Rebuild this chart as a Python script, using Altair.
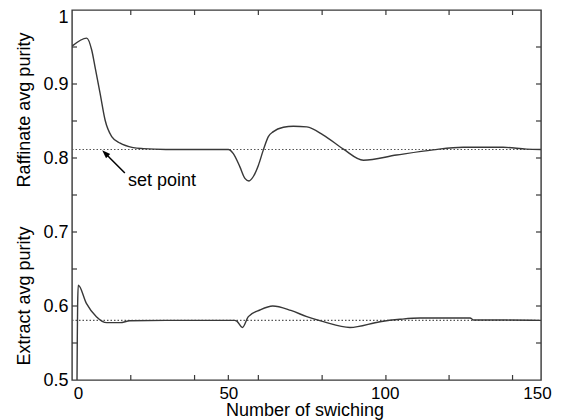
import altair as alt
import pandas as pd

# ---- data ----
raff_x = [0, 4.7, 6.3, 7.5, 9.0, 10.6, 12.7, 15.4, 19.6, 22.8, 30, 50, 51.6, 53.7, 55.3, 56.6, 58.0, 59.6,
          61.2, 62.8, 64.4, 67.6, 70.8, 75.1, 80.4, 86.8, 93.2, 103.8, 115.5, 125.1, 137.9, 145.4, 150]
raff_y = [0.951, 0.962, 0.946, 0.920, 0.887, 0.851, 0.829, 0.820, 0.814, 0.8126, 0.8115, 0.8115, 0.806, 0.788,
          0.7725, 0.769, 0.775, 0.790, 0.811, 0.829, 0.8356, 0.8415, 0.843, 0.842, 0.831, 0.812, 0.797, 0.804,
          0.811, 0.8145, 0.8145, 0.812, 0.8115]

ext_x = [1.6, 1.7, 1.8, 2.0, 4.6, 7.8, 11.1, 15.4, 18.5, 30, 52, 52.7, 54.5, 56.4, 60.1, 64.2, 70, 75.1,
         80.4, 88.9, 98.5, 104.9, 111.3, 127.3, 128.5, 139, 150]
ext_y = [0.5, 0.56, 0.60, 0.628, 0.6036, 0.5856, 0.5775, 0.5775, 0.580, 0.5806, 0.5806, 0.5795, 0.571, 0.5856,
         0.5946, 0.600, 0.594, 0.5856, 0.5788, 0.571, 0.5788, 0.582, 0.5838, 0.5838, 0.581, 0.581, 0.5806]

setpoints = [0.8115, 0.5806]
sp_start, sp_end = 0, 150

x_label_values = [0, 50, 100, 150]
y_label_values = [0.5, 0.6, 0.7, 0.8, 0.9, 1.0]
y_tick_values = [0.55, 0.6, 0.65, 0.7, 0.75, 0.8, 0.85, 0.9, 0.95]
top_tick_values = [18.8, 39.2, 59.6, 80.0, 100.4, 120.6, 140.9]
bottom_tick_values = [18.8, 39.2, 50, 59.6, 80.0, 100.4, 120.6, 140.9]

arrow_x = [16.9, 10.6]
arrow_y = [0.7797, 0.8065]
annot_text = ["set point"]
annot_x = [17.9]
annot_y = [0.769]

x_title = "Number of swiching"
y_title_top = "Raffinate avg purity"
y_title_bottom = "Extract avg purity"

# ---- chart ----
W, H = 469, 370
FONT = "Liberation Sans"
LINE = "#383838"

xs = alt.Scale(domain=[0, 150], nice=False, zero=False)
ys = alt.Scale(domain=[0.5, 1.0], nice=False, zero=False)

x_axis = alt.Axis(values=x_label_values, ticks=False, domain=False, grid=False, labelFontSize=17,
                  labelFont=FONT, labelColor="#000", labelPadding=5, title=None, labelFlush=False,
                  labelOffset={"condition": [{"test": "datum.value < 1", "value": 6},
                                             {"test": "datum.value > 149", "value": -4}],
                               "value": 0})
y_axis = alt.Axis(values=y_label_values, ticks=False, domain=False, grid=False, labelFontSize=18,
                  labelFont=FONT, labelColor="#000", labelPadding=4, title=None, labelFlush=False,
                  labelOffset={"condition": {"test": "datum.value > 0.99", "value": 7},
                               "value": 0},
                  labelExpr="toString(round(datum.value*10)/10)")


def X(field):
    return alt.X(field, scale=xs, axis=x_axis)


def Y(field):
    return alt.Y(field, scale=ys, axis=y_axis)


curves = pd.concat([
    pd.DataFrame({"x": raff_x, "y": raff_y, "s": "raffinate"}),
    pd.DataFrame({"x": ext_x, "y": ext_y, "s": "extract"}),
])

lines = alt.Chart(curves).mark_line(color=LINE, strokeWidth=1.4, interpolate="monotone", clip=True).encode(
    x=X("x:Q"), y=Y("y:Q"), detail="s:N",
)

sp_df = pd.DataFrame({"y": setpoints, "x0": [sp_start] * 2, "x1": [sp_end] * 2})
sp = alt.Chart(sp_df).mark_rule(color="#555", strokeWidth=1.2, strokeDash=[1.5, 2]).encode(
    x=X("x0:Q"), x2="x1:Q", y=Y("y:Q")
)

ytick_df = pd.DataFrame({"v": y_tick_values})
left_ticks = alt.Chart(ytick_df).mark_rule(color=LINE, strokeWidth=1.2).encode(
    y=Y("v:Q"), x=alt.value(0), x2=alt.value(5)
)
right_ticks = alt.Chart(ytick_df).mark_rule(color=LINE, strokeWidth=1.2).encode(
    y=Y("v:Q"), x=alt.value(W - 5), x2=alt.value(W)
)
top_ticks = alt.Chart(pd.DataFrame({"v": top_tick_values})).mark_rule(color=LINE, strokeWidth=1.2).encode(
    x=X("v:Q"), y=alt.value(0), y2=alt.value(5)
)
bottom_ticks = alt.Chart(pd.DataFrame({"v": bottom_tick_values})).mark_rule(color=LINE, strokeWidth=1.2).encode(
    x=X("v:Q"), y=alt.value(H - 5), y2=alt.value(H)
)

arrow_df = pd.DataFrame({"x": arrow_x, "y": arrow_y, "o": [0, 1]})
arrow_line = alt.Chart(arrow_df).mark_line(color="#000", strokeWidth=1.5).encode(
    x=X("x:Q"), y=Y("y:Q"), order="o:Q"
)
arrow_head = alt.Chart(arrow_df.iloc[[1]]).mark_point(
    shape="M0,-1L0.7,1L-0.7,1Z", filled=True, color="#000", size=70, angle=315, opacity=1
).encode(x=X("x:Q"), y=Y("y:Q"))

annot = alt.Chart(pd.DataFrame({"x": annot_x, "y": annot_y, "t": annot_text})).mark_text(
    align="left", baseline="middle", fontSize=18, font=FONT, color="#000"
).encode(x=X("x:Q"), y=Y("y:Q"), text="t:N")


def title_text(txt, px, py, angle=0):
    return alt.Chart(pd.DataFrame({"t": [txt]})).mark_text(
        align="center", baseline="middle", fontSize=18, font=FONT, color="#000", angle=angle
    ).encode(x=alt.value(px), y=alt.value(py), text="t:N")


t_top = title_text(y_title_top, -47, 100, 270)
t_bot = title_text(y_title_bottom, -47, 286, 270)
t_x = title_text(x_title, 233, 401)

chart = alt.layer(
    sp, lines, left_ticks, right_ticks, top_ticks, bottom_ticks,
    arrow_line, arrow_head, annot, t_top, t_bot, t_x
).properties(
    width=W, height=H,
    autosize=alt.AutoSizeParams(type="none"),
    padding={"left": 64, "top": 2, "right": 13, "bottom": 40},
    background="white",
).configure_view(stroke=LINE, strokeWidth=1.4)

chart.save("out.html", embed_options={"renderer": "svg", "actions": False})
